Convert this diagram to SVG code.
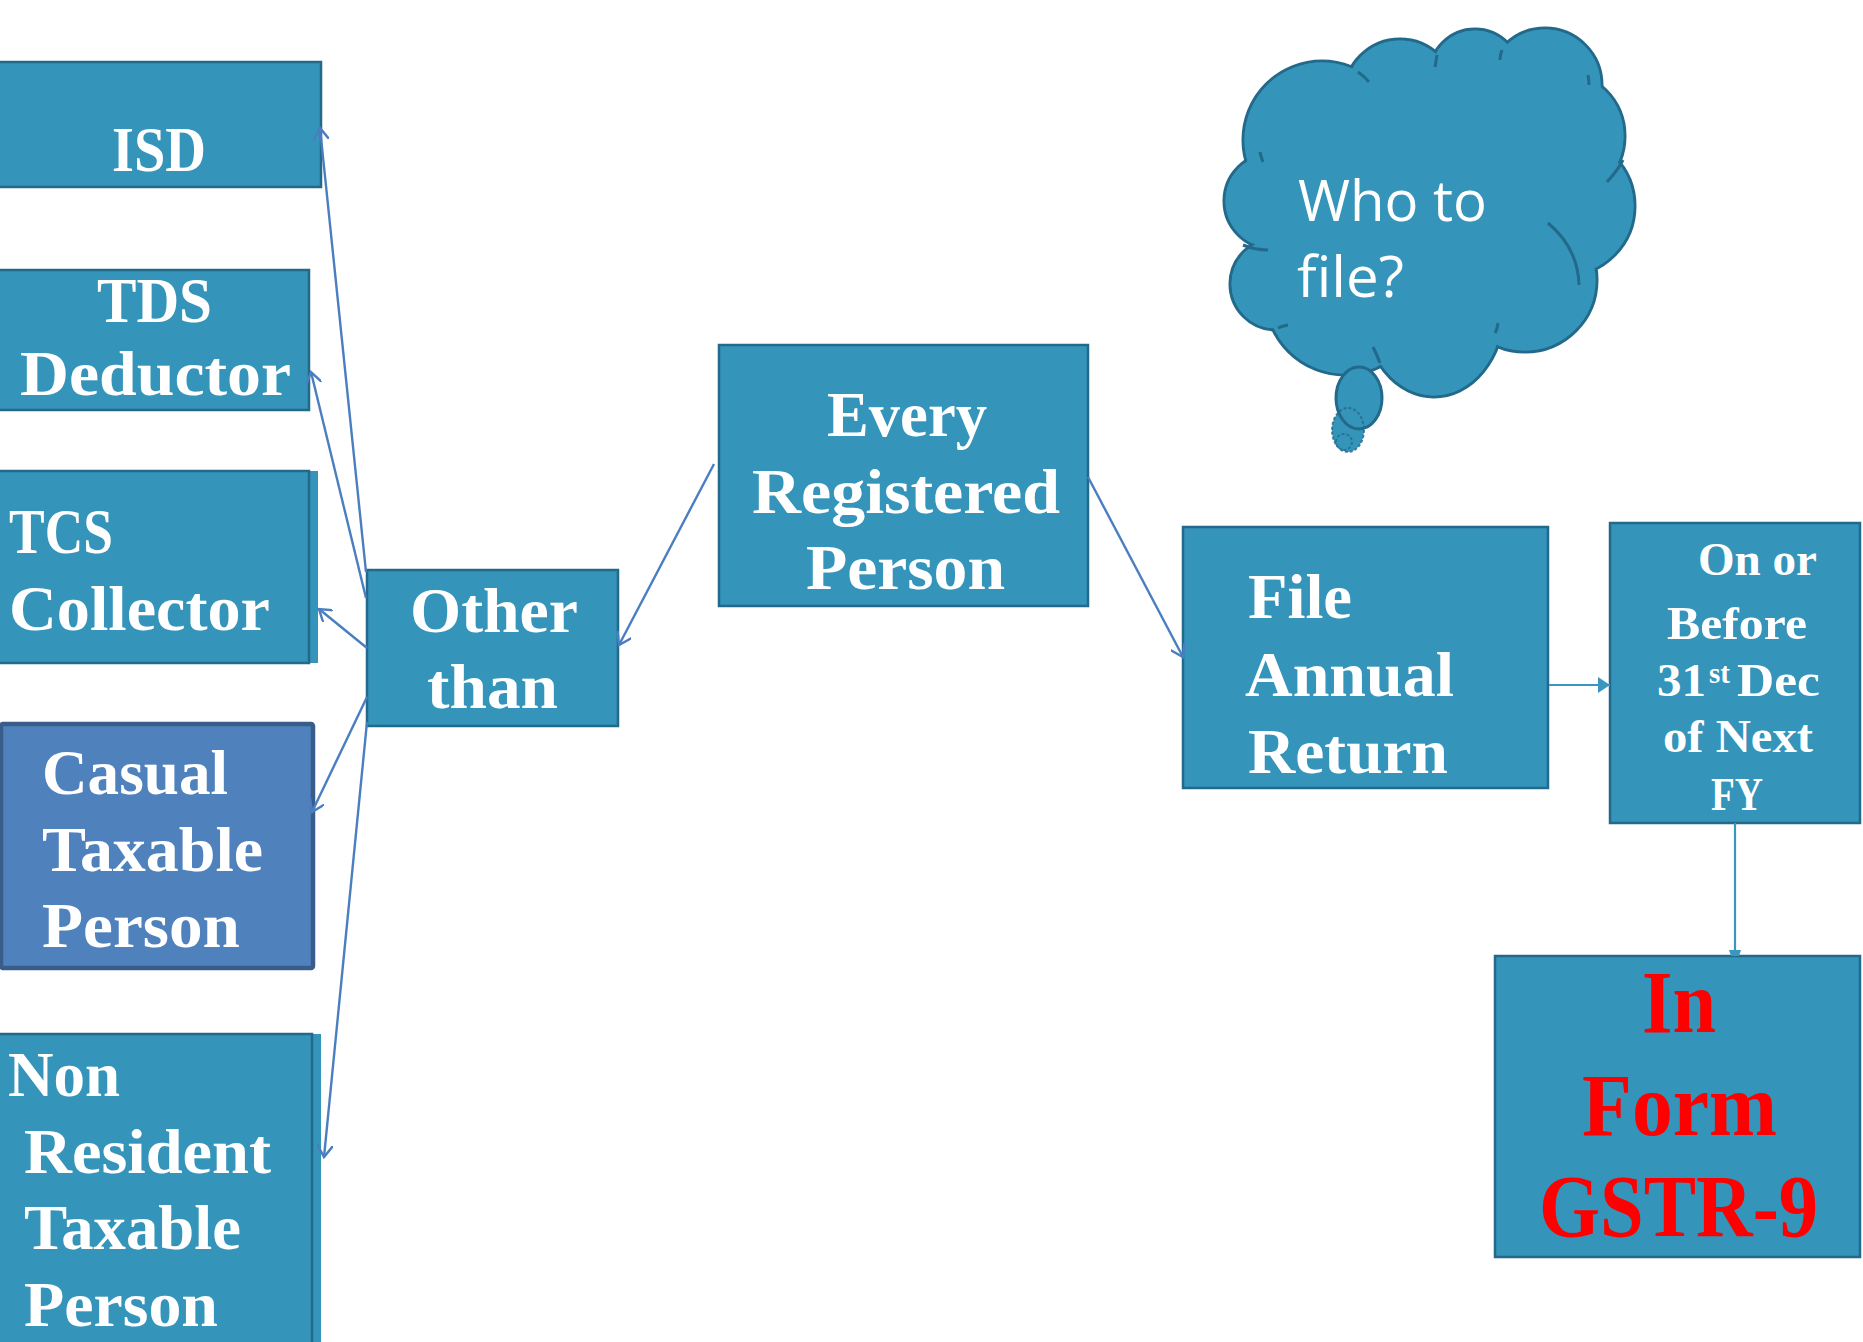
<svg xmlns="http://www.w3.org/2000/svg" width="1863" height="1342" viewBox="0 0 1863 1342">
  <style>
    .box { fill: #3494BA; stroke: #23698A; stroke-width: 2.5; }
    .strip { fill: #3494BA; }
    .casual { fill: #4F81BD; stroke: #385D8A; stroke-width: 4.5; }
    .lbl { font-family: "Liberation Serif", "DejaVu Serif", serif; font-weight: bold; font-size: 64px; fill: #FFFFFF; }
    .sm { font-size: 47px; }
    .sup { font-size: 30px; }
    .red { font-size: 88px; fill: #FF0000; }
    .cloudtxt { font-family: "Open Sans", "Noto Sans", sans-serif; font-size: 57px; fill: #FFFFFF; }
    .link { fill: none; stroke: #4A7EC0; stroke-width: 2.4; }
    .flow { fill: none; stroke: #3A96C0; stroke-width: 2.2; }
    .puff { fill: #3494BA; stroke: #23698A; stroke-width: 3; }
    .puffFill { fill: #3494BA; }
    .crease { fill: none; stroke: #23698A; stroke-width: 3; }
  </style>
  <defs>
    <marker id="open" viewBox="0 0 14 16" refX="12" refY="8" markerWidth="14" markerHeight="16" markerUnits="userSpaceOnUse" orient="auto">
      <path d="M0,0 L12,8 L0,16" fill="none" stroke="#4A7EC0" stroke-width="2.4"/>
    </marker>
    <marker id="solid" viewBox="0 0 12 16" refX="12" refY="8" markerWidth="12" markerHeight="16" markerUnits="userSpaceOnUse" orient="auto">
      <path d="M0,0 L12,8 L0,16 Z" fill="#3A96C0"/>
    </marker>
    <marker id="small" viewBox="0 0 6 12" refX="6" refY="6" markerWidth="6" markerHeight="12" markerUnits="userSpaceOnUse" orient="auto">
      <path d="M0,0 L6,2 L6,10 L0,12 Z" fill="#3A96C0"/>
    </marker>
  </defs>

  <rect width="1863" height="1342" fill="#FFFFFF"/>

  <!-- thought cloud -->
  <g id="cloud">
    <g>
      <circle class="puff" cx="1272" cy="201" r="48"/>
      <circle class="puff" cx="1276" cy="284" r="46"/>
      <circle class="puff" cx="1345" cy="295" r="80"/>
      <ellipse class="puff" cx="1434" cy="310" rx="70" ry="87"/>
      <circle class="puff" cx="1525" cy="280" r="72"/>
      <circle class="puff" cx="1565" cy="206" r="70"/>
      <circle class="puff" cx="1560" cy="136" r="65"/>
      <circle class="puff" cx="1545" cy="85" r="57"/>
      <circle class="puff" cx="1475" cy="75" r="46"/>
      <circle class="puff" cx="1400" cy="95" r="56"/>
      <circle class="puff" cx="1322" cy="140" r="79"/>
    </g>
    <g>
      <circle class="puffFill" cx="1272" cy="201" r="46.5"/>
      <circle class="puffFill" cx="1276" cy="284" r="44.5"/>
      <circle class="puffFill" cx="1345" cy="295" r="78.5"/>
      <ellipse class="puffFill" cx="1434" cy="310" rx="68.5" ry="85.5"/>
      <circle class="puffFill" cx="1525" cy="280" r="70.5"/>
      <circle class="puffFill" cx="1565" cy="206" r="68.5"/>
      <circle class="puffFill" cx="1560" cy="136" r="63.5"/>
      <circle class="puffFill" cx="1545" cy="85" r="55.5"/>
      <circle class="puffFill" cx="1475" cy="75" r="44.5"/>
      <circle class="puffFill" cx="1400" cy="95" r="54.5"/>
      <circle class="puffFill" cx="1322" cy="140" r="77.5"/>
      <ellipse class="puffFill" cx="1430" cy="210" rx="165" ry="125"/>
    </g>
    <!-- inner creases of the puffs -->
    <path class="crease" d="M1260,152 Q1261,157 1263,162"/>
    <path class="crease" d="M1243,245 Q1255,250 1268,250"/>
    <path class="crease" d="M1278,328 Q1282,326 1288,325"/>
    <path class="crease" d="M1373,347 Q1377,355 1380,363"/>
    <path class="crease" d="M1495,333 Q1497,330 1498,323"/>
    <path class="crease" d="M1548,223 Q1578,248 1579,285"/>
    <path class="crease" d="M1607,182 Q1618,170 1623,160"/>
    <path class="crease" d="M1588,75 Q1589,80 1589,85"/>
    <path class="crease" d="M1502,50 Q1500,55 1500,60"/>
    <path class="crease" d="M1435,67 Q1436,61 1437,55"/>
    <path class="crease" d="M1358,72 Q1364,76 1369,82"/>
    <ellipse class="puffFill" cx="1348" cy="430" rx="16" ry="22"/>
    <ellipse class="puff" cx="1359" cy="398" rx="23" ry="31"/>
    <ellipse cx="1348" cy="430" rx="16" ry="22" fill="none" stroke="#23698A" stroke-width="2" stroke-dasharray="3 2" opacity="0.8"/>
    <circle cx="1344" cy="442" r="8" fill="none" stroke="#23698A" stroke-width="1.8" stroke-dasharray="3 2" opacity="0.8"/>
    <text class="cloudtxt" x="1298" y="221" textLength="189" lengthAdjust="spacingAndGlyphs">Who to</text>
    <text class="cloudtxt" x="1297" y="297" textLength="107" lengthAdjust="spacingAndGlyphs">file?</text>
  </g>

  <!-- left column -->
  <g id="isd">
    <rect class="box" x="-2" y="62" width="323" height="125"/>
    <text class="lbl" x="112" y="171" textLength="94" lengthAdjust="spacingAndGlyphs">ISD</text>
  </g>
  <g id="tds">
    <rect class="box" x="-2" y="270" width="311" height="140"/>
    <text class="lbl" x="97" y="322" textLength="115" lengthAdjust="spacingAndGlyphs">TDS</text>
    <text class="lbl" x="20" y="395" textLength="271" lengthAdjust="spacingAndGlyphs">Deductor</text>
  </g>
  <g id="tcs">
    <rect class="strip" x="0" y="471" width="318" height="192"/>
    <rect class="box" x="-2" y="471" width="311" height="192"/>
    <text class="lbl" x="9" y="553" textLength="104" lengthAdjust="spacingAndGlyphs">TCS</text>
    <text class="lbl" x="9" y="630" textLength="261" lengthAdjust="spacingAndGlyphs">Collector</text>
  </g>
  <g id="casual">
    <rect class="casual" x="1" y="724" width="312" height="244" rx="2"/>
    <text class="lbl" x="42" y="794" textLength="186" lengthAdjust="spacingAndGlyphs">Casual</text>
    <text class="lbl" x="42" y="871" textLength="221" lengthAdjust="spacingAndGlyphs">Taxable</text>
    <text class="lbl" x="42" y="947" textLength="198" lengthAdjust="spacingAndGlyphs">Person</text>
  </g>
  <g id="non-resident">
    <rect class="strip" x="0" y="1034" width="321" height="310"/>
    <rect class="box" x="-2" y="1034" width="314" height="312"/>
    <text class="lbl" x="8" y="1096" textLength="112" lengthAdjust="spacingAndGlyphs">Non</text>
    <text class="lbl" x="24" y="1173" textLength="247" lengthAdjust="spacingAndGlyphs">Resident</text>
    <text class="lbl" x="24" y="1249" textLength="217" lengthAdjust="spacingAndGlyphs">Taxable</text>
    <text class="lbl" x="24" y="1326" textLength="194" lengthAdjust="spacingAndGlyphs">Person</text>
  </g>

  <!-- middle -->
  <g id="other-than">
    <rect class="box" x="367" y="570" width="251" height="156"/>
    <text class="lbl" x="410" y="632" textLength="168" lengthAdjust="spacingAndGlyphs">Other</text>
    <text class="lbl" x="427" y="708" textLength="131" lengthAdjust="spacingAndGlyphs">than</text>
  </g>
  <g id="every-registered">
    <rect class="box" x="719" y="345" width="369" height="261"/>
    <text class="lbl" x="827" y="436" textLength="160" lengthAdjust="spacingAndGlyphs">Every</text>
    <text class="lbl" x="752" y="513" textLength="308" lengthAdjust="spacingAndGlyphs">Registered</text>
    <text class="lbl" x="806" y="589" textLength="199" lengthAdjust="spacingAndGlyphs">Person</text>
  </g>
  <g id="file-annual">
    <rect class="box" x="1183" y="527" width="365" height="261"/>
    <text class="lbl" x="1248" y="618" textLength="104" lengthAdjust="spacingAndGlyphs">File</text>
    <text class="lbl" x="1245" y="696" textLength="209" lengthAdjust="spacingAndGlyphs">Annual</text>
    <text class="lbl" x="1248" y="773" textLength="200" lengthAdjust="spacingAndGlyphs">Return</text>
  </g>

  <!-- right column -->
  <g id="due-date">
    <rect class="box" x="1610" y="523" width="250" height="300"/>
    <text class="lbl sm" x="1698" y="575" textLength="119" lengthAdjust="spacingAndGlyphs">On or</text>
    <text class="lbl sm" x="1667" y="639" textLength="140" lengthAdjust="spacingAndGlyphs">Before</text>
    <text class="lbl sm" x="1657" y="696" textLength="49" lengthAdjust="spacingAndGlyphs">31</text>
    <text class="lbl sup" x="1709" y="683" textLength="21" lengthAdjust="spacingAndGlyphs">st</text>
    <text class="lbl sm" x="1737" y="696" textLength="83" lengthAdjust="spacingAndGlyphs">Dec</text>
    <text class="lbl sm" x="1663" y="752" textLength="150" lengthAdjust="spacingAndGlyphs">of Next</text>
    <text class="lbl sm" x="1711" y="810" textLength="52" lengthAdjust="spacingAndGlyphs">FY</text>
  </g>
  <g id="gstr9">
    <rect class="box" x="1495" y="956" width="365" height="301"/>
    <text class="lbl red" x="1642" y="1032" textLength="74" lengthAdjust="spacingAndGlyphs">In</text>
    <text class="lbl red" x="1582" y="1135" textLength="195" lengthAdjust="spacingAndGlyphs">Form</text>
    <text class="lbl red" x="1539" y="1236" textLength="279" lengthAdjust="spacingAndGlyphs">GSTR-9</text>
  </g>

  <!-- connectors -->
  <g id="connectors">
    <line class="link" x1="366" y1="572" x2="320" y2="128" marker-end="url(#open)"/>
    <line class="link" x1="366" y1="598" x2="311" y2="372" marker-end="url(#open)"/>
    <line class="link" x1="367" y1="648" x2="319" y2="609" marker-end="url(#open)"/>
    <line class="link" x1="367" y1="697" x2="312" y2="812" marker-end="url(#open)"/>
    <line class="link" x1="367" y1="722" x2="324" y2="1157" marker-end="url(#open)"/>
    <line class="link" x1="714" y1="464" x2="619" y2="645" marker-end="url(#open)"/>
    <line class="link" x1="1088" y1="477" x2="1183" y2="657" marker-end="url(#open)"/>
    <line class="flow" x1="1549" y1="685" x2="1610" y2="685" marker-end="url(#solid)"/>
    <line class="flow" x1="1735" y1="823" x2="1735" y2="956" marker-end="url(#small)"/>
  </g>
</svg>
